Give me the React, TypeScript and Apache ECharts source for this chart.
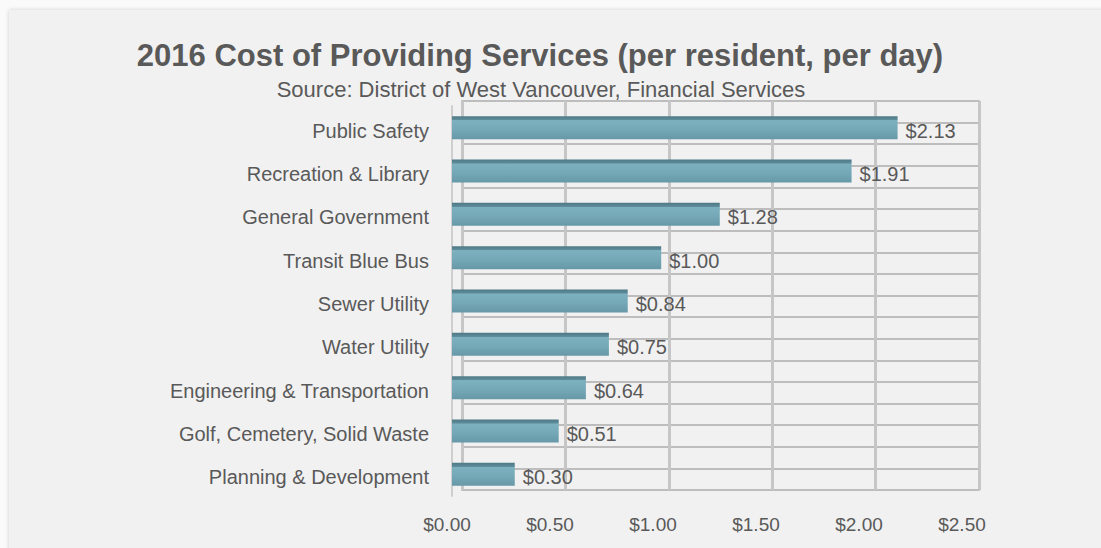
import React, { useEffect, useRef } from "react";
import * as echarts from "echarts";

const categories = [
  "Public Safety",
  "Recreation & Library",
  "General Government",
  "Transit Blue Bus",
  "Sewer Utility",
  "Water Utility",
  "Engineering & Transportation",
  "Golf, Cemetery, Solid Waste",
  "Planning & Development",
];
const values = [2.13, 1.91, 1.28, 1.0, 0.84, 0.75, 0.64, 0.51, 0.3];
const axisMin = 0;
const axisMax = 2.5;
const axisStep = 0.5;
const title = "2016 Cost of Providing Services (per resident, per day)";
const subtitle = "Source: District of West Vancouver, Financial Services";

const money = (v: number) => "$" + v.toFixed(2);
const FONT = "Liberation Sans, Arial, sans-serif";
const TXT = "#595959";

export default function App() {
  const ref = useRef<HTMLDivElement>(null);
  useEffect(() => {
    if (!ref.current) return;
    const chart = echarts.init(ref.current, null, { renderer: "svg" });
    const wallRows = categories.length * 2;
    chart.setOption({
      animation: false,
      textStyle: { fontFamily: FONT },
      title: [
        {
          text: title,
          left: 535,
          textAlign: "center",
          top: 35,
          textStyle: { fontFamily: FONT, fontSize: 31, fontWeight: "bold", color: TXT },
        },
        {
          text: subtitle,
          left: 536,
          textAlign: "center",
          top: 73,
          textStyle: { fontFamily: FONT, fontSize: 22, fontWeight: "normal", color: TXT },
        },
      ],
      grid: [
        { left: 462, top: 101, width: 517, height: 389, show: true, borderColor: "#c9c9c9", borderWidth: 2, backgroundColor: "transparent" },
        { left: 452, top: 106, width: 523, height: 390 },
        { left: 447, top: 109, width: 515, height: 390 },
      ],
      xAxis: [
        {
          gridIndex: 0, type: "value", min: axisMin, max: axisMax, interval: axisStep,
          axisLabel: { show: false }, axisLine: { show: false }, axisTick: { show: false },
          splitLine: { show: true, lineStyle: { color: "#c6c6c6", width: 3 } },
        },
        {
          gridIndex: 1, type: "value", min: axisMin, max: axisMax, interval: axisStep,
          axisLabel: { show: false }, axisLine: { show: false }, axisTick: { show: false },
          splitLine: { show: false },
        },
        {
          gridIndex: 2, type: "value", min: axisMin, max: axisMax, interval: axisStep,
          axisLabel: { show: true, formatter: (v: number) => money(v), color: TXT, fontSize: 19, fontFamily: FONT, margin: 16 },
          axisLine: { show: false }, axisTick: { show: false }, splitLine: { show: false },
        },
      ],
      yAxis: [
        {
          gridIndex: 0, type: "value", min: 0, max: wallRows, interval: 1,
          axisLabel: { show: false }, axisLine: { show: false }, axisTick: { show: false },
          splitLine: { show: true, lineStyle: { color: "#bdbdbd", width: 2 } },
        },
        {
          gridIndex: 1, type: "category", data: categories, inverse: true,
          axisLine: { show: true, lineStyle: { color: "#cfcfcf", width: 2 } },
          axisTick: { show: false },
          axisLabel: { show: false },
        },
        {
          gridIndex: 2, type: "category", data: categories, inverse: true,
          axisLine: { show: false }, axisTick: { show: false },
          axisLabel: { color: TXT, fontSize: 20, fontFamily: FONT, margin: 18 },
        },
      ],
      series: [
        {
          type: "bar",
          xAxisIndex: 1,
          yAxisIndex: 1,
          data: values,
          barWidth: 23,
          z: 5,
          itemStyle: {
            color: new echarts.graphic.LinearGradient(0, 0, 0, 1, [
              { offset: 0, color: "#4e7986" },
              { offset: 0.16, color: "#5f8c9a" },
              { offset: 0.19, color: "#7db1c0" },
              { offset: 0.6, color: "#75a8b7" },
              { offset: 1, color: "#6698a7" },
            ]),
          },
          label: {
            show: true,
            position: "right",
            distance: 8,
            offset: [0, 3],
            formatter: (p: any) => money(p.value),
            color: TXT,
            fontSize: 20,
            fontFamily: FONT,
          },
        },
      ],
    });
    return () => chart.dispose();
  }, []);
  return (
    <div style={{ position: "fixed", left: 0, top: 0, width: 1101, height: 548, background: "#fafafa", overflow: "hidden" }}>
      <div
        style={{
          position: "absolute",
          left: 9,
          top: 10,
          width: 1100,
          height: 550,
          background: "#f1f1f1",
          boxShadow: "0 0 4px rgba(0,0,0,0.18)",
        }}
      />
      <div ref={ref} style={{ position: "absolute", left: 0, top: 0, width: 1101, height: 548 }} />
    </div>
  );
}
